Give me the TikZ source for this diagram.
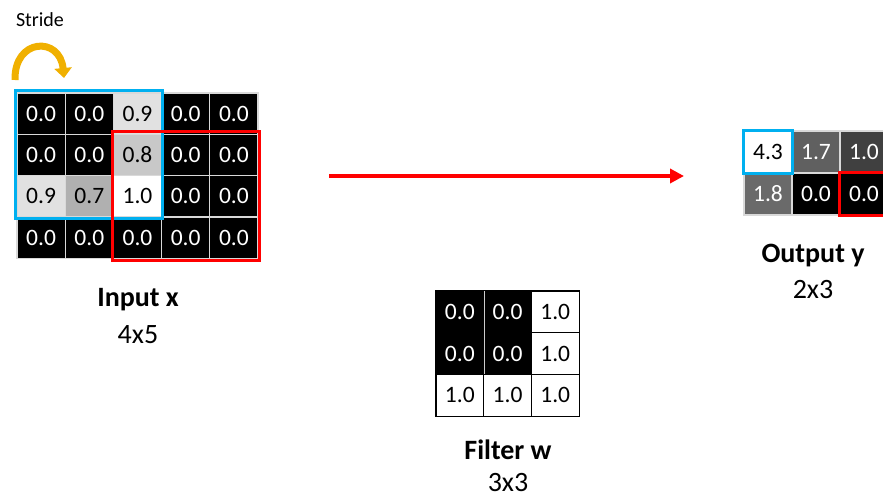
\documentclass[tikz,border=0pt]{standalone}
\usepackage{fontspec}
\setmainfont{Carlito}
\usetikzlibrary{arrows.meta}
\definecolor{cblue}{RGB}{0,176,240}
\definecolor{cred}{RGB}{255,0,0}
\definecolor{cgold}{RGB}{240,176,0}
\definecolor{gA}{RGB}{225,225,225}
\definecolor{gB}{RGB}{200,200,200}
\definecolor{gC}{RGB}{176,176,176}
\definecolor{oA}{RGB}{96,96,96}
\definecolor{oB}{RGB}{64,64,64}
\definecolor{oC}{RGB}{106,106,106}
\tikzset{
  cellbase/.style={rectangle, inner sep=0pt, font=\fontsize{23.5}{27}\selectfont},
  icell/.style={cellbase, minimum width=48.2pt, minimum height=41.3pt, draw=white!85!black, line width=1.2pt},
  ocell/.style={cellbase, minimum width=48pt, minimum height=42pt, draw=white!85!black, line width=1.2pt},
  fcell/.style={cellbase, minimum width=47.7pt, minimum height=41.7pt, draw=black, line width=1.2pt},
  blk/.style={fill=black, text=white},
  wht/.style={fill=white, text=black},
  ga/.style={fill=gA, text=black},
  gb/.style={fill=gB, text=black},
  gc/.style={fill=gC, text=black},
  oa/.style={fill=oA, text=white},
  ob/.style={fill=oB, text=white},
  oc/.style={fill=oC, text=white},
  bluebox/.style={draw=cblue, line width=3pt},
  redbox/.style={draw=cred, line width=3pt},
  ttl/.style={font=\fontsize{28}{32}\selectfont\bfseries},
  sub/.style={font=\fontsize{28}{32}\selectfont},
}
\begin{document}
\begin{tikzpicture}[x=1pt,y=-1pt]
\useasboundingbox (0,0) rectangle (883,495);
% Stride
\node[font=\fontsize{20}{24}\selectfont] (stride) at (40,20) {Stride};
\coordinate (sarcS) at (15,80);
\coordinate (sarcE) at (64,78);
\draw[cgold, line width=7pt, -{Triangle[width=17pt,length=10pt]}] (sarcS) .. controls (14,38) and (60,36) .. (sarcE);
% Input grid
\foreach \r/\c/\v/\s in {
 1/1/0.0/blk,1/2/0.0/blk,1/3/0.9/ga,1/4/0.0/blk,1/5/0.0/blk,
 2/1/0.0/blk,2/2/0.0/blk,2/3/0.8/gb,2/4/0.0/blk,2/5/0.0/blk,
 3/1/0.9/ga,3/2/0.7/gc,3/3/1.0/wht,3/4/0.0/blk,3/5/0.0/blk,
 4/1/0.0/blk,4/2/0.0/blk,4/3/0.0/blk,4/4/0.0/blk,4/5/0.0/blk}{
  \node[icell,\s] (in-\r-\c) at ({17+48.2*(\c-0.5)},{93+41.3*(\r-0.5)}) {\v};
}
\draw[bluebox] ([shift={(-1,-2)}]in-1-1.north west) rectangle ([shift={(0,1)}]in-3-3.south east);
\draw[redbox] ([shift={(0,-2)}]in-2-3.north west) rectangle ([shift={(1,2)}]in-4-5.south east);
\node[ttl] (inlbl) at (138,300) {Input x};
\node[sub] (insz) at (138,335) {4x5};
% Arrow
\coordinate (arrS) at (329,176);
\coordinate (arrE) at (684,176);
\draw[cred, line width=4pt, -{Triangle[width=14pt,length=14pt]}] (arrS) -- (arrE);
% Filter
\foreach \r/\c/\v/\s in {
 1/1/0.0/blk,1/2/0.0/blk,1/3/1.0/wht,
 2/1/0.0/blk,2/2/0.0/blk,2/3/1.0/wht,
 3/1/1.0/wht,3/2/1.0/wht,3/3/1.0/wht}{
  \node[fcell,\s] (f-\r-\c) at ({436+47.7*(\c-0.5)},{291+41.7*(\r-0.5)}) {\v};
}
\draw[white!80!black, line width=1.2pt] ([yshift=-1pt]f-1-1.north east) -- ([yshift=1pt]f-2-1.south east);
\node[ttl] (flbl) at (508,450) {Filter w};
\node[sub] (fsz) at (508,483) {3x3};
% Output
\foreach \r/\c/\v/\s in {
 1/1/4.3/wht,1/2/1.7/oa,1/3/1.0/ob,
 2/1/1.8/oc,2/2/0.0/blk,2/3/0.0/blk}{
  \node[ocell,\s] (o-\r-\c) at ({744+48*(\c-0.5)},{131+42*(\r-0.5)}) {\v};
}
\draw[bluebox] (o-1-1.north west) rectangle (o-1-1.south east);
\draw[redbox] (o-2-3.north west) rectangle (o-2-3.south east);
\node[ttl] (olbl) at (813,256) {Output y};
\node[sub] (osz) at (813,290) {2x3};
\end{tikzpicture}
\end{document}
